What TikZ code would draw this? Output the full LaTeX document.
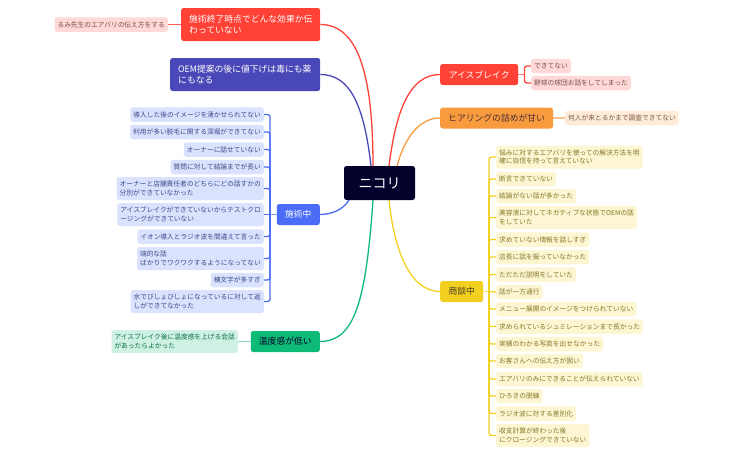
\documentclass[tikz,border=0pt]{standalone}
\usepackage{fontspec}
\setmainfont{Noto Sans CJK JP}
\usetikzlibrary{backgrounds}
\definecolor{rootred}{HTML}{FF4136}
\definecolor{rootpurple}{HTML}{4A48B8}
\definecolor{rootblue}{HTML}{4A6CF7}
\definecolor{rootorange}{HTML}{F89B3F}
\definecolor{rootyellow}{HTML}{F2D01F}
\definecolor{rootgreen}{HTML}{0DBB77}
\definecolor{rootdark}{HTML}{02022C}
\newcommand{\linew}{1.3pt}
\tikzset{
  box/.style={rounded corners=2.5pt,inner xsep=3pt,inner ysep=0pt,align=left},
  topic/.style={box,inner xsep=8pt,minimum height=21pt,font=\fontsize{8.8}{11}\selectfont},
  tall/.style={minimum height=23pt},
  leaf/.style={box,minimum height=14.5pt,font=\fontsize{6.72}{8.7}\selectfont},
  redleaf/.style={leaf,fill=rootred!20,text=rootred!30!black!75},
  orangeleaf/.style={leaf,fill=rootorange!20,text=rootorange!40!black!85},
  yellowleaf/.style={leaf,fill=rootyellow!20,text=rootyellow!50!black!90},
  blueleaf/.style={leaf,fill=rootblue!20,text=rootblue!50!black!90},
  greenleaf/.style={leaf,fill=rootgreen!20,text=rootgreen!60!black},
  link/.style={line width=\linew,rounded corners=2.5pt}
}

\begin{document}
\begin{tikzpicture}[x=1pt,y=-1pt]
\useasboundingbox (0,0) rectangle (734,455);
\node[box,fill=rootdark,text=white,minimum width=71pt,minimum height=34pt,font=\fontsize{14}{16}\selectfont,align=center] (nikori) at (379.5,183) {ニコリ};
\coordinate (nr1) at (373,166);
\coordinate (np1) at (371,166);
\coordinate (nb1) at (349,200);
\coordinate (ng1) at (373,200);
\coordinate (nr2) at (389,166);
\coordinate (no1) at (397,166);
\coordinate (ny1) at (389,200);
%left top
\node[topic,fill=rootred,text=white,anchor=west,minimum height=33pt,text width=123pt] (kouka) at (181,24.5) {施術終了時点でどんな効果か伝\\わっていない};
\node[redleaf,anchor=east] (rumi) at (168,24.5) {るみ先生のエアバリの伝え方をする};
\node[topic,fill=rootpurple,text=white,anchor=west,minimum height=33pt,text width=134pt] (oem) at (170,74.5) {OEM提案の後に値下げは毒にも薬\\にもなる};
%left middle
\node[topic,fill=rootblue,text=white,anchor=east,minimum width=43pt] (sejutsu) at (320,214.5) {施術中};
\coordinate (bluetrunk) at (270,214.5);
\node[blueleaf,anchor=east] (b1) at (264,114.5) {導入した後のイメージを湧かせられてない};
\node[blueleaf,anchor=east] (b2) at (264,132) {利用が多い脱毛に関する深堀ができてない};
\node[blueleaf,anchor=east] (b3) at (264,149.5) {オーナーに話せていない};
\node[blueleaf,anchor=east] (b4) at (264,167) {質問に対して結論までが長い};
\node[blueleaf,tall,anchor=east] (b5) at (264,188.5) {オーナーと店舗責任者のどちらにどの話すかの\\分別ができていなかった};
\node[blueleaf,tall,anchor=east] (b6) at (264,214.5) {アイスブレイクができていないからテストクロ\\ージングができていない};
\node[blueleaf,anchor=east] (b7) at (264,236.5) {イオン導入とラジオ波を間違えて言った};
\node[blueleaf,tall,anchor=east] (b8) at (264,258.5) {端的な話\\ばかりでワクワクするようになってない};
\node[blueleaf,anchor=east] (b9) at (264,280) {横文字が多すぎ};
\node[blueleaf,tall,anchor=east] (b10) at (264,301.5) {水でびしょびしょになっているに対して返\\しができてなかった};
%left bottom
\node[topic,fill=rootgreen,text=rootdark,anchor=east,minimum width=69pt] (ondo) at (320,341.5) {温度感が低い};
\node[greenleaf,tall,anchor=east] (g1) at (238,341.5) {アイスブレイク後に温度感を上げる会話\\があったらよかった};
%right top
\node[topic,fill=rootred,text=white,anchor=west,minimum width=78pt] (ice) at (440,74.5) {アイスブレイク};
\coordinate (icetrunk) at (524.5,74.5);
\node[redleaf,anchor=west] (r1) at (531,66) {できてない};
\node[redleaf,anchor=west] (r2) at (531,83) {野球の球団お話をしてしまった};
\node[topic,fill=rootorange,text=rootdark!70!rootorange,anchor=west,minimum width=112pt] (hearing) at (440,118) {ヒアリングの詰めが甘い};
\node[orangeleaf,anchor=west] (o1) at (565,118) {何人が来とるかまで調査できてない};
%right bottom
\node[topic,fill=rootyellow,text=rootdark!70!rootyellow,anchor=west,minimum width=43pt] (shoudan) at (440,291.5) {商談中};
\coordinate (yellowtrunk) at (489,291.5);
\node[yellowleaf,tall,anchor=west] (y1) at (496,157) {悩みに対するエアバリを使っての解決方法を明\\確に自信を持って言えていない};
\node[yellowleaf,anchor=west] (y2) at (496,179) {断言できていない};
\node[yellowleaf,anchor=west] (y3) at (496,196) {結論がない話が多かった};
\node[yellowleaf,tall,anchor=west] (y4) at (496,217.5) {美容液に対してネガティブな状態でOEMの話\\をしていた};
\node[yellowleaf,anchor=west] (y5) at (496,239.5) {求めていない情報を話しすぎ};
\node[yellowleaf,anchor=west] (y6) at (496,257) {店長に話を振っていなかった};
\node[yellowleaf,anchor=west] (y7) at (496,274.5) {ただただ説明をしていた};
\node[yellowleaf,anchor=west] (y8) at (496,292) {話が一方通行};
\node[yellowleaf,anchor=west] (y9) at (496,309) {メニュー展開のイメージをつけられていない};
\node[yellowleaf,anchor=west] (y10) at (496,326.5) {求められているシュミレーションまで長かった};
\node[yellowleaf,anchor=west] (y11) at (496,344) {実績のわかる写真を出せなかった};
\node[yellowleaf,anchor=west] (y12) at (496,361) {お客さんへの伝え方が固い};
\node[yellowleaf,anchor=west] (y13) at (496,379) {エアバリのみにできることが伝えられていない};
\node[yellowleaf,anchor=west] (y14) at (496,396) {ひろきの脱線};
\node[yellowleaf,anchor=west] (y15) at (496,413.5) {ラジオ波に対する差別化};
\node[yellowleaf,tall,anchor=west] (y16) at (496,435.5) {収支計算が終わった後\\にクロージングできていない};
%links
\begin{scope}[on background layer]
\draw[link,rootred] (kouka.east) .. controls (360,24.5) and (373,80) .. (nr1);
\draw[link,rootpurple] (oem.east) .. controls (350,74.5) and (364,105) .. (np1);
\draw[link,rootblue] (sejutsu.east) .. controls (335,214.5) and (345,207) .. (nb1);
\draw[link,rootgreen] (ondo.east) .. controls (355,341.5) and (366,300) .. (ng1);
\draw[link,rootred] (ice.west) .. controls (410,74.5) and (396,110) .. (nr2);
\draw[link,rootorange] (hearing.west) .. controls (418,118) and (404,140) .. (no1);
\draw[link,rootyellow] (shoudan.west) .. controls (410,291.5) and (394,250) .. (ny1);
\draw[link,rootred!85] (rumi.east) -- (kouka.west);
\draw[link,rootgreen!50] (g1.east) -- (ondo.west);
\draw[link,rootorange!60] (hearing.east) -- (o1.west);
\draw[link,rootred!70] (ice.east) -- (icetrunk);
\draw[link,rootred] (r1.west) -| (icetrunk);
\draw[link,rootred] (r2.west) -| (icetrunk);
\draw[link,rootblue!70] (sejutsu.west) -- (bluetrunk);
\draw[link,rootblue] (b1.east) -| (bluetrunk);
\draw[link,rootblue] (b2.east) -| (bluetrunk);
\draw[link,rootblue] (b3.east) -| (bluetrunk);
\draw[link,rootblue] (b4.east) -| (bluetrunk);
\draw[link,rootblue] (b5.east) -| (bluetrunk);
\draw[link,rootblue] (b6.east) -- (bluetrunk);
\draw[link,rootblue] (b7.east) -| (bluetrunk);
\draw[link,rootblue] (b8.east) -| (bluetrunk);
\draw[link,rootblue] (b9.east) -| (bluetrunk);
\draw[link,rootblue] (b10.east) -| (bluetrunk);
\draw[link,rootyellow!70] (shoudan.east) -- (yellowtrunk);
\draw[link,rootyellow] (y1.west) -| (yellowtrunk);
\draw[link,rootyellow] (y2.west) -| (yellowtrunk);
\draw[link,rootyellow] (y3.west) -| (yellowtrunk);
\draw[link,rootyellow] (y4.west) -| (yellowtrunk);
\draw[link,rootyellow] (y5.west) -| (yellowtrunk);
\draw[link,rootyellow] (y6.west) -| (yellowtrunk);
\draw[link,rootyellow] (y7.west) -| (yellowtrunk);
\draw[link,rootyellow] (y8.west) -- (yellowtrunk);
\draw[link,rootyellow] (y9.west) -| (yellowtrunk);
\draw[link,rootyellow] (y10.west) -| (yellowtrunk);
\draw[link,rootyellow] (y11.west) -| (yellowtrunk);
\draw[link,rootyellow] (y12.west) -| (yellowtrunk);
\draw[link,rootyellow] (y13.west) -| (yellowtrunk);
\draw[link,rootyellow] (y14.west) -| (yellowtrunk);
\draw[link,rootyellow] (y15.west) -| (yellowtrunk);
\draw[link,rootyellow] (y16.west) -| (yellowtrunk);
\end{scope}
\end{tikzpicture}
\end{document}
